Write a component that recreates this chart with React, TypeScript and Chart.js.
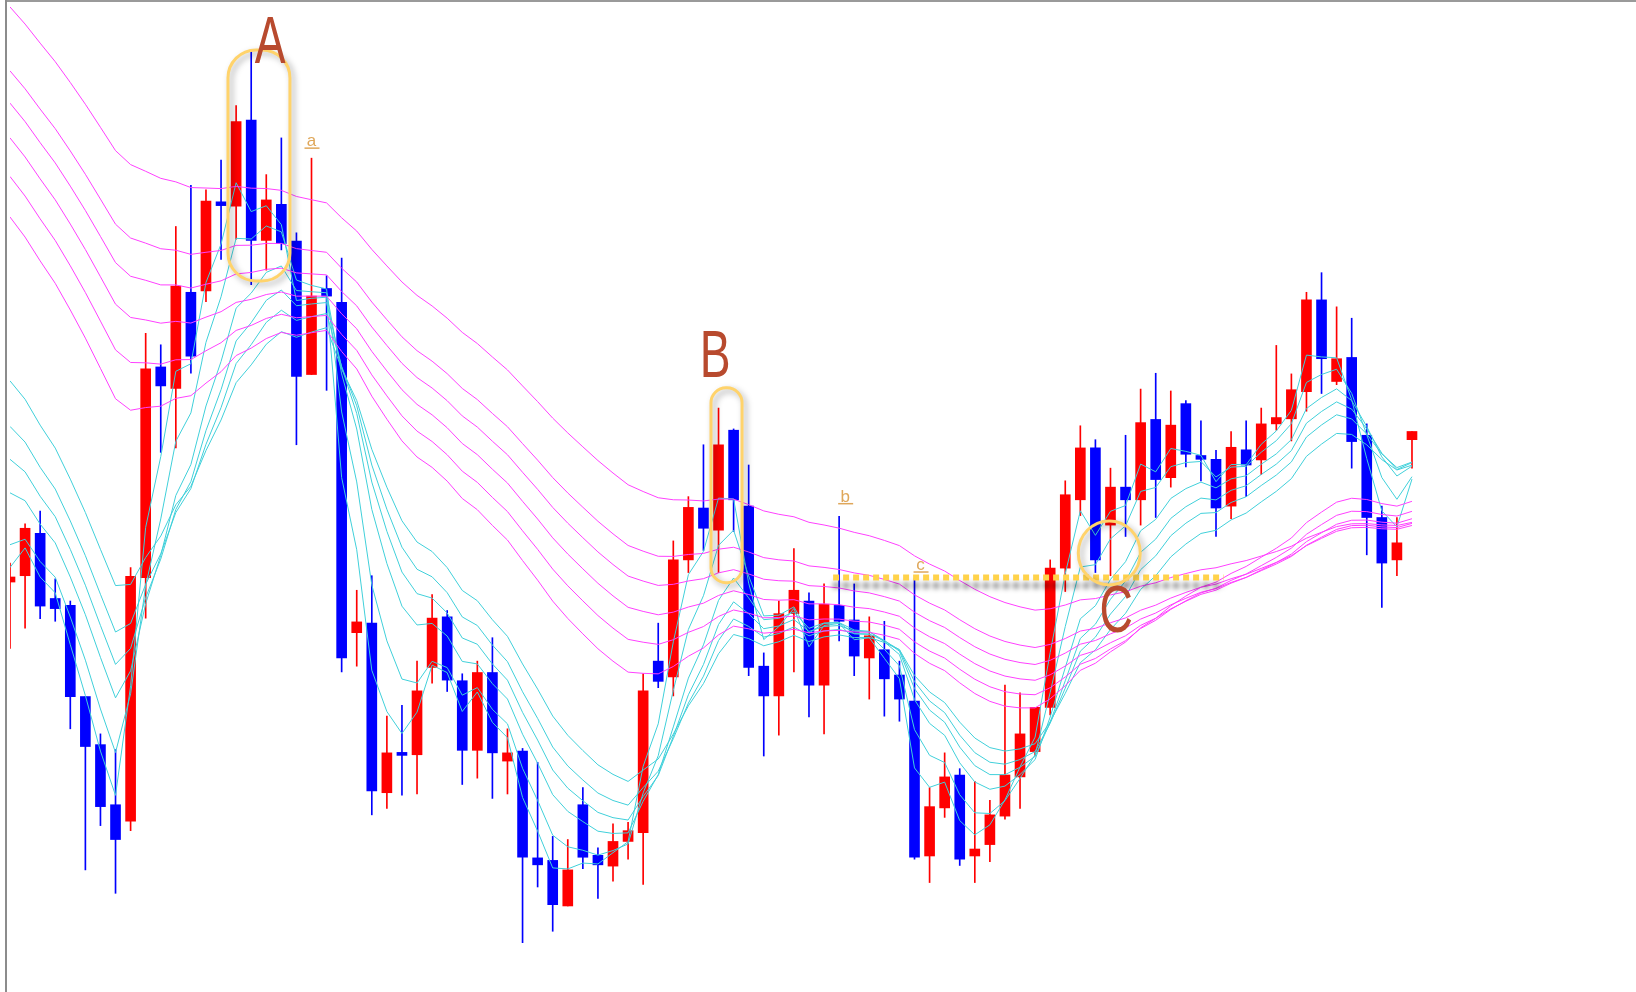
import { useEffect, useRef } from "react";
import { Chart, registerables } from "chart.js";

Chart.register(...registerables);

// OHLC prices (arbitrary price units), one entry per session, left to right
const opens = [648, 658, 725, 622, 611, 467, 391, 296, 270, 655, 988, 954, 1106, 1108, 1249, 1242, 1378, 1188, 1245, 1187, 976, 1112, 1090, 568, 583, 315, 378, 375, 513, 593, 492, 382, 505, 365, 381, 212, 208, 136, 296, 216, 199, 238, 252, 523, 498, 683, 765, 730, 888, 768, 515, 468, 598, 618, 485, 611, 588, 528, 541, 501, 460, 215, 291, 343, 215, 233, 278, 340, 380, 450, 670, 778, 860, 738, 798, 778, 905, 813, 930, 848, 842, 768, 857, 841, 898, 906, 949, 1094, 965, 1003, 880, 750, 683, 873];
const highs = [678, 740, 760, 653, 618, 467, 408, 383, 671, 1041, 1023, 1210, 1275, 1268, 1315, 1401, 1486, 1292, 1350, 1200, 1318, 1132, 1160, 635, 658, 436, 453, 523, 628, 603, 503, 523, 560, 416, 385, 363, 246, 241, 323, 228, 266, 268, 503, 583, 713, 783, 865, 923, 890, 833, 536, 618, 701, 631, 645, 752, 645, 593, 586, 523, 653, 323, 378, 353, 333, 303, 485, 473, 450, 683, 808, 895, 873, 828, 880, 953, 978, 950, 935, 903, 856, 886, 903, 923, 1022, 977, 1106, 1137, 1083, 1065, 898, 768, 750, 886];
const lows = [543, 575, 590, 586, 416, 193, 263, 156, 255, 591, 853, 860, 978, 1091, 1158, 1190, 1118, 1141, 1173, 865, 976, 951, 506, 515, 280, 290, 311, 313, 488, 475, 328, 338, 306, 313, 78, 166, 96, 136, 195, 148, 175, 210, 170, 481, 468, 663, 698, 663, 728, 500, 373, 406, 506, 435, 408, 555, 500, 463, 436, 428, 210, 173, 276, 200, 173, 206, 273, 290, 373, 438, 633, 753, 663, 658, 720, 738, 750, 798, 830, 808, 720, 748, 783, 818, 888, 871, 918, 946, 960, 828, 691, 608, 658, 828];
const closes = [656, 733, 610, 606, 467, 388, 293, 241, 657, 985, 958, 1116, 1005, 1250, 1243, 1376, 1188, 1252, 1183, 973, 1100, 1100, 528, 585, 318, 378, 374, 476, 591, 493, 382, 505, 378, 378, 213, 201, 138, 193, 213, 201, 238, 255, 476, 491, 683, 766, 733, 865, 778, 513, 468, 598, 635, 485, 613, 586, 531, 563, 495, 463, 213, 293, 340, 210, 226, 280, 343, 408, 450, 670, 786, 860, 683, 798, 778, 900, 810, 896, 850, 842, 765, 861, 833, 898, 908, 952, 1094, 1001, 1001, 870, 750, 678, 710, 886];

// Guppy multiple moving averages (EMA periods) and their values on the first session
const shortPeriods = [3, 5, 8, 10, 12, 15];
const shortStartValues = [671, 707, 789, 842, 894, 966];
const longPeriods = [30, 35, 40, 45, 50, 60];
const longStartValues = [1225, 1289, 1350, 1405, 1456, 1557];

const UP = "#FF0000";
const DOWN = "#0000FF";
const CYAN = "#40D0DA";
const MAGENTA = "#FF40FF";

function ema(period: number, start: number): number[] {
  const a = 2 / (period + 1);
  const out = [start];
  for (let i = 1; i < closes.length; i++) out.push(out[i - 1] + a * (closes[i] - out[i - 1]));
  return out;
}

const annotationPlugin = {
  id: "chartNotes",
  afterDatasetsDraw(chart: any) {
    const { ctx } = chart;
    const xs = chart.scales.x;
    const ys = chart.scales.y;
    const px = (v: number) => xs.getPixelForValue(v);
    const py = (v: number) => ys.getPixelForValue(v);

    const gold = "#FFD36B";
    const shadow = (c: CanvasRenderingContext2D, ox: number, oy: number, blur: number, col: string) => {
      c.shadowColor = col;
      c.shadowBlur = blur;
      c.shadowOffsetX = ox;
      c.shadowOffsetY = oy;
    };
    const rrect = (x1: number, y1: number, x2: number, y2: number, r: number) => {
      ctx.beginPath();
      ctx.moveTo(x1 + r, y1);
      ctx.lineTo(x2 - r, y1);
      ctx.arcTo(x2, y1, x2, y1 + r, r);
      ctx.lineTo(x2, y2 - r);
      ctx.arcTo(x2, y2, x2 - r, y2, r);
      ctx.lineTo(x1 + r, y2);
      ctx.arcTo(x1, y2, x1, y2 - r, r);
      ctx.lineTo(x1, y1 + r);
      ctx.arcTo(x1, y1, x1 + r, y1, r);
      ctx.closePath();
    };

    ctx.save();
    // horizontal resistance line
    ctx.save();
    shadow(ctx, 0, 8, 5, "rgba(0,0,0,0.45)");
    ctx.setLineDash([6, 4]);
    ctx.lineWidth = 6;
    ctx.strokeStyle = "#FFD24A";
    ctx.beginPath();
    ctx.moveTo(px(54.6), py(655));
    ctx.lineTo(px(80.5), py(655));
    ctx.stroke();
    ctx.restore();

    // box around A
    ctx.save();
    shadow(ctx, 3, 3, 6, "rgba(0,0,0,0.35)");
    ctx.strokeStyle = gold;
    ctx.lineWidth = 3;
    rrect(px(14.46), py(1489), px(18.57), py(1124), 28);
    ctx.stroke();
    // oval around B
    rrect(px(46.5), py(955), px(48.56), py(647), 15);
    ctx.stroke();
    // circle at C
    ctx.beginPath();
    ctx.ellipse(px(72.92), py(694), 31, 32, 0, 0, Math.PI * 2);
    ctx.stroke();
    ctx.restore();

    // big letters
    const letter = (t: string, xv: number, yv: number) => {
      ctx.save();
      ctx.translate(px(xv), py(yv));
      ctx.scale(0.7, 1);
      ctx.font = '66px "Liberation Sans", Arial, sans-serif';
      ctx.fillStyle = "#B84A2E";
      ctx.textAlign = "center";
      ctx.textBaseline = "alphabetic";
      ctx.fillText(t, 0, 0);
      ctx.restore();
    };
    letter("A", 17.25, 1468);
    letter("B", 46.77, 972);
    letter("C", 73.37, 569);

    // small labels
    const label = (t: string, xv: number, yv: number) => {
      const x = px(xv);
      const y = py(yv);
      ctx.save();
      ctx.font = '17px "Liberation Sans", Arial, sans-serif';
      ctx.fillStyle = "#DFA75A";
      ctx.textAlign = "center";
      ctx.textBaseline = "alphabetic";
      ctx.fillText(t, x, y);
      ctx.strokeStyle = "#DFA75A";
      ctx.lineWidth = 1.5;
      ctx.beginPath();
      ctx.moveTo(x - 7, y + 2);
      ctx.lineTo(x + 8, y + 2);
      ctx.stroke();
      ctx.restore();
    };
    label("a", 20, 1337);
    label("b", 55.4, 775);
    label("c", 60.4, 667);
    ctx.restore();
  },
};

export default function App() {
  const ref = useRef<HTMLCanvasElement>(null);

  useEffect(() => {
    const idx = closes.map((_, i) => i);
    const colors = idx.map((i) => (closes[i] >= opens[i] ? UP : DOWN));
    const bodies = idx.map((i) => ({ x: i, y: [opens[i], closes[i]] }));
    const wicks = idx.map((i) => ({ x: i, y: [lows[i], highs[i]] }));

    const lineSets = [
      ...longPeriods.map((p, k) => ({ p, s: longStartValues[k], c: MAGENTA })),
      ...shortPeriods.map((p, k) => ({ p, s: shortStartValues[k], c: CYAN })),
    ].map(({ p, s, c }) => ({
      type: "line" as const,
      label: `EMA${p}`,
      data: ema(p, s).map((v, i) => ({ x: i, y: v })),
      borderColor: c,
      borderWidth: 1,
      pointRadius: 0,
      tension: 0,
      fill: false,
      order: 0,
    }));

    const chart = new Chart(ref.current as HTMLCanvasElement, {
      type: "bar",
      data: {
        datasets: [
          {
            type: "bar",
            label: "wick",
            data: wicks as any,
            backgroundColor: colors,
            barThickness: 1,
            grouped: false,
            borderWidth: 0,
            order: 2,
            clip: 0,
          } as any,
          {
            type: "bar",
            label: "body",
            data: bodies as any,
            backgroundColor: colors,
            barThickness: 10,
            minBarLength: 3,
            grouped: false,
            borderWidth: 0,
            borderSkipped: false,
            order: 1,
            clip: 0,
          } as any,
          ...lineSets,
        ],
      },
      options: {
        animation: false,
        responsive: false,
        devicePixelRatio: 1,
        layout: { padding: { left: 10, right: 0, top: 0, bottom: 0 } },
        scales: {
          x: { type: "linear", min: 0, max: 107.86, offset: false, display: false },
          y: { type: "linear", min: 0, max: 1568, display: false },
        },
        plugins: { legend: { display: false }, tooltip: { enabled: false } },
      },
      plugins: [annotationPlugin],
    });
    return () => chart.destroy();
  }, []);

  return (
    <div style={{ position: "fixed", left: 0, top: 0, width: 1636, height: 992, background: "#fff", overflow: "hidden" }}>
      <div style={{ position: "absolute", left: 5, top: 0, width: 1631, height: 2, background: "#9a9a9a" }} />
      <div style={{ position: "absolute", left: 5, top: 0, width: 2, height: 992, background: "#8c8c8c" }} />
      <canvas ref={ref} width={1636} height={992} style={{ position: "absolute", left: 0, top: 0, width: 1636, height: 992 }} />
    </div>
  );
}
